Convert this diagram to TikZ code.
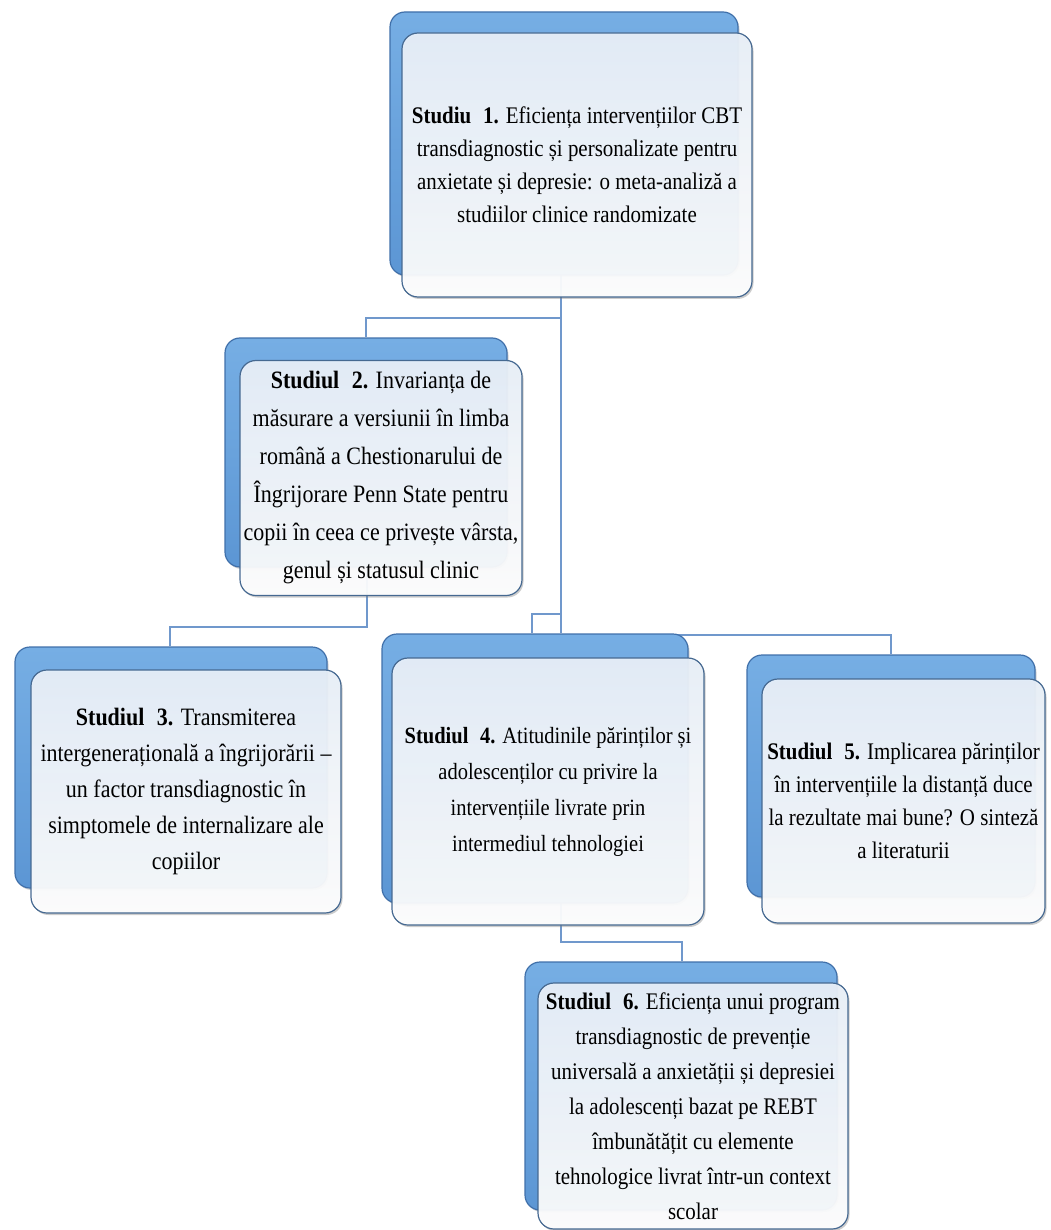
\documentclass[tikz,border=0pt]{standalone}
\usepackage{fontspec}
\setmainfont{Liberation Serif}[FakeStretch=0.88]
\usetikzlibrary{shadows,backgrounds}
\definecolor{backtop}{RGB}{118,174,228}
\definecolor{backbot}{RGB}{92,150,212}
\definecolor{backedge}{RGB}{64,112,170}
\definecolor{fronttop}{RGB}{234,241,250}
\definecolor{frontmid}{RGB}{238,244,251}
\definecolor{frontedge}{RGB}{70,105,145}
\definecolor{connblue}{RGB}{112,152,204}
\tikzset{
  backbox/.style={draw=backedge, line width=1.2pt, rounded corners=15pt,
    top color=backtop, bottom color=backbot, inner sep=0pt,
    drop shadow={shadow xshift=1.5pt, shadow yshift=-2pt, opacity=0.35}},
  frontbox/.style={draw=frontedge, line width=1.2pt, rounded corners=16pt,
    top color=fronttop, middle color=frontmid, bottom color=white,
    fill opacity=0.93, text opacity=1, inner sep=0pt, align=center,
    drop shadow={shadow xshift=1.5pt, shadow yshift=-2pt, opacity=0.4}},
  conn/.style={draw=connblue, line width=1.4pt},
}
\begin{document}
\begin{tikzpicture}[x=1pt,y=-1pt]
\useasboundingbox (0,0) rectangle (1050,1230);

% Box 1
\node[backbox, minimum width=348pt, minimum height=263pt] (b1) at (564,143.5) {};
\node[frontbox, minimum width=350pt, minimum height=264pt,
  font=\fontsize{23.8}{33}\selectfont] (f1) at (577,165)
  {\textbf{Studiu\enspace 1.} Eficiența intervențiilor CBT\\
   transdiagnostic și personalizate pentru\\
   anxietate și depresie: o meta-analiză a\\
   studiilor clinice randomizate};

% Box 2
\node[backbox, minimum width=282pt, minimum height=229pt] (b2) at (366,452.5) {};
\node[frontbox, minimum width=282pt, minimum height=235pt,
  font=\fontsize{25}{38}\selectfont] (f2) at (381,478)
  {\textbf{Studiul\enspace 2.} Invarianța de\\
   măsurare a versiunii în limba\\
   română a Chestionarului de\\
   Îngrijorare Penn State pentru\\
   copii în ceea ce privește vârsta,\\
   genul și statusul clinic};

% Box 3
\node[backbox, minimum width=312pt, minimum height=241pt] (b3) at (171,767.5) {};
\node[frontbox, minimum width=310pt, minimum height=243pt,
  font=\fontsize{25}{36}\selectfont] (f3) at (186,791.5)
  {\textbf{Studiul\enspace 3.} Transmiterea\\
   intergenerațională a îngrijorării –\\
   un factor transdiagnostic în\\
   simptomele de internalizare ale\\
   copiilor};

% Box 4
\node[backbox, minimum width=306pt, minimum height=269pt] (b4) at (535,768.5) {};
\node[frontbox, minimum width=312pt, minimum height=267pt,
  font=\fontsize{23.3}{36}\selectfont] (f4) at (548,791.5)
  {\textbf{Studiul\enspace 4.} Atitudinile părinților și\\
   adolescenților cu privire la\\
   intervențiile livrate prin\\
   intermediul tehnologiei};

% Box 5
\node[backbox, minimum width=288pt, minimum height=242pt] (b5) at (891,776) {};
\node[frontbox, minimum width=283pt, minimum height=244pt,
  font=\fontsize{23.8}{33}\selectfont] (f5) at (903.5,801)
  {\textbf{Studiul\enspace 5.} Implicarea părinților\\
   în intervențiile la distanță duce\\
   la rezultate mai bune? O sinteză\\
   a literaturii};

% Box 6
\node[backbox, minimum width=312pt, minimum height=248pt] (b6) at (681,1086) {};
\node[frontbox, minimum width=310pt, minimum height=246pt,
  font=\fontsize{23.8}{35}\selectfont] (f6) at (693,1106)
  {\textbf{Studiul\enspace 6.} Eficiența unui program\\
   transdiagnostic de prevenție\\
   universală a anxietății și depresiei\\
   la adolescenți bazat pe REBT\\
   îmbunătățit cu elemente\\
   tehnologice livrat într-un context\\
   scolar};

% Connectors
\coordinate (a1) at (561,250);
\coordinate (a2) at (561,318);
\coordinate (a3) at (366,318);
\coordinate (a4) at (561,614);
\coordinate (a5) at (532,614);
\coordinate (a6) at (561,635);
\coordinate (a7) at (891,635);
\coordinate (c1) at (367,560);
\coordinate (c2) at (367,627);
\coordinate (c3) at (170,627);
\coordinate (d1) at (561,900);
\coordinate (d2) at (561,942);
\coordinate (d3) at (682,942);
\begin{scope}[on background layer]
\draw[conn] (a1) -- (a2) -- (a3) -- (a3 |- b2.north);
\draw[conn] (a2) -- (a4) -- (a5) -- (a5 |- b4.north);
\draw[conn] (a4) -- (a6 |- b4.north);
\draw[conn] (a6) -- (a7) -- (a7 |- b5.north);
\draw[conn] (c1) -- (c2) -- (c3) -- (c3 |- b3.north);
\draw[conn] (d1) -- (d2) -- (d3) -- (d3 |- b6.north);
\end{scope}
\end{tikzpicture}
\end{document}
